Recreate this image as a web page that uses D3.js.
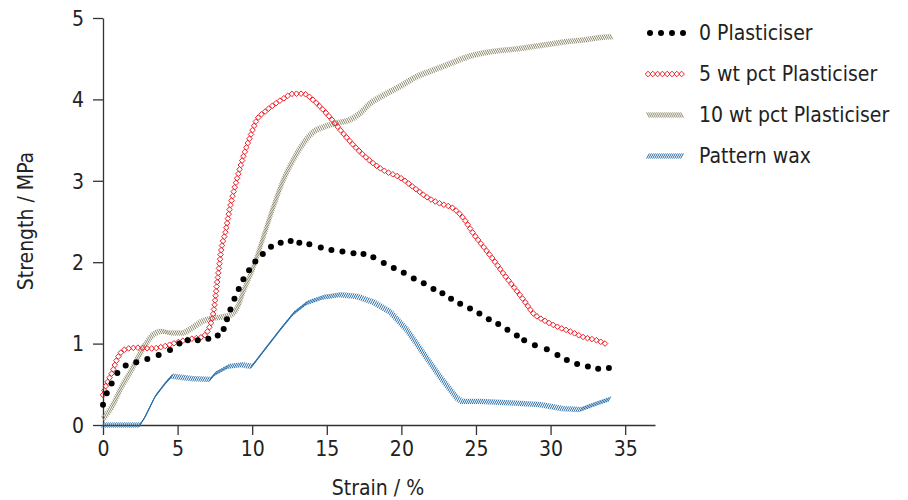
<!DOCTYPE html>
<html>
<head>
<meta charset="utf-8">
<script src="https://cdn.jsdelivr.net/npm/d3@7"></script>
<style>
  body { margin: 0; background: #fff; }
  svg text { font-family: "Liberation Sans Narrow", "Arial Narrow", "DejaVu Sans", sans-serif; font-stretch: condensed; fill: #222; }
</style>
</head>
<body>
<div class="visualization"></div>
<script>
// strain (%) / strength (MPa)
const seriesNames = ["0 Plasticiser", "5 wt pct Plasticiser", "10 wt pct Plasticiser", "Pattern wax"];

const strain0 = [0, 0.25, 0.58, 0.96, 1.52, 2.23, 2.97, 3.73, 4.49, 5.12, 5.68, 6.35, 7.06, 7.69, 8.09, 8.31, 8.54, 8.81, 9.1, 9.41, 9.79, 10.21, 10.71, 11.26, 11.91, 12.58, 13.16, 13.83, 14.6, 15.31, 16.05, 16.79, 17.46, 18.12, 18.82, 19.49, 20.16, 20.83, 21.5, 22.15, 22.75, 23.33, 23.94, 24.6, 25.23, 25.86, 26.49, 27.11, 27.74, 28.23, 28.95, 29.75, 30.46, 31.09, 31.78, 32.5, 33.19, 33.91];
const stress0 = [0.25, 0.39, 0.51, 0.64, 0.73, 0.77, 0.81, 0.86, 0.92, 1.0, 1.04, 1.04, 1.06, 1.10, 1.18, 1.30, 1.42, 1.55, 1.67, 1.79, 1.90, 2.01, 2.10, 2.19, 2.24, 2.26, 2.24, 2.22, 2.18, 2.15, 2.13, 2.11, 2.10, 2.06, 1.99, 1.93, 1.87, 1.80, 1.74, 1.67, 1.62, 1.55, 1.49, 1.43, 1.37, 1.30, 1.24, 1.17, 1.10, 1.04, 0.98, 0.93, 0.86, 0.80, 0.75, 0.72, 0.69, 0.70];

const strain5 = [0, 0.13, 0.36, 0.62, 0.92, 1.25, 1.7, 2.37, 3.26, 4.16, 5.05, 5.95, 6.62, 7.06, 7.29, 7.46, 7.62, 7.78, 7.96, 8.18, 8.52, 8.96, 9.41, 9.86, 10.31, 10.86, 11.42, 12.09, 12.76, 13.43, 14.1, 14.77, 15.44, 16.11, 16.78, 17.68, 18.79, 19.91, 21.03, 21.7, 22.6, 23.49, 24.16, 24.83, 25.5, 26.17, 26.84, 27.51, 28.18, 28.85, 29.52, 30.42, 31.31, 32.2, 33.1, 33.66];
const stress5 = [0.37, 0.45, 0.55, 0.65, 0.80, 0.90, 0.94, 0.95, 0.94, 0.97, 1.02, 1.06, 1.08, 1.17, 1.29, 1.45, 1.70, 1.94, 2.19, 2.35, 2.68, 3.01, 3.30, 3.54, 3.75, 3.85, 3.93, 4.01, 4.07, 4.07, 3.99, 3.87, 3.73, 3.58, 3.44, 3.28, 3.13, 3.04, 2.89, 2.80, 2.72, 2.66, 2.54, 2.35, 2.19, 2.03, 1.86, 1.70, 1.54, 1.37, 1.29, 1.21, 1.15, 1.08, 1.04, 1.00];

const strain10 = [0, 0.58, 1.25, 1.92, 2.37, 2.82, 3.37, 3.94, 4.6, 5.28, 5.95, 6.62, 7.29, 8.07, 8.63, 9.07, 9.41, 10.08, 10.75, 11.42, 12.09, 12.76, 13.43, 14.1, 14.77, 15.67, 16.56, 17.23, 17.9, 18.79, 19.91, 21.03, 22.15, 23.27, 24.39, 25.5, 26.62, 27.74, 28.85, 29.97, 31.09, 32.2, 33.32, 34.1];
const stress10 = [0.08, 0.22, 0.47, 0.68, 0.84, 0.98, 1.11, 1.15, 1.13, 1.13, 1.19, 1.27, 1.31, 1.33, 1.36, 1.47, 1.64, 1.94, 2.31, 2.68, 3.01, 3.26, 3.46, 3.60, 3.66, 3.71, 3.75, 3.83, 3.95, 4.05, 4.16, 4.28, 4.36, 4.44, 4.52, 4.57, 4.60, 4.62, 4.65, 4.68, 4.71, 4.73, 4.76, 4.77];

const strainWax = [0, 2.48, 2.82, 3.49, 4.16, 4.6, 5.95, 7.18, 7.51, 8.4, 9.3, 9.97, 10.98, 11.87, 12.76, 13.66, 14.77, 15.89, 17.01, 18.12, 19.24, 20.36, 21.48, 22.6, 23.72, 24.05, 25.28, 27.51, 29.3, 30.86, 32.0, 32.88, 33.99];
const stressWax = [0, 0, 0.10, 0.35, 0.51, 0.60, 0.57, 0.56, 0.63, 0.72, 0.74, 0.72, 0.96, 1.17, 1.37, 1.50, 1.57, 1.60, 1.58, 1.51, 1.39, 1.17, 0.88, 0.59, 0.33, 0.29, 0.29, 0.27, 0.25, 0.20, 0.19, 0.25, 0.32];

const xTicks = [0, 5, 10, 15, 20, 25, 30, 35];
const yTicks = [0, 1, 2, 3, 4, 5];

const zip = (xs, ys) => xs.map((x, i) => [x, ys[i]]);

const svg = d3.select(".visualization").append("svg")
    .attr("width", 908).attr("height", 500);

const x = d3.scaleLinear().domain([0, 37]).range([103, 655]);
const y = d3.scaleLinear().domain([0, 5]).range([425, 18]);

// axes
const axisColor = "#333";
const xAxis = svg.append("g").attr("transform", "translate(0,425)")
    .call(d3.axisBottom(x).tickValues(xTicks).tickFormat(d3.format("d")).tickSize(10).tickPadding(6).tickSizeOuter(0));
const yAxis = svg.append("g").attr("transform", "translate(103,0)")
    .call(d3.axisLeft(y).tickValues(yTicks).tickFormat(d3.format("d")).tickSize(10).tickPadding(9).tickSizeOuter(0));
[xAxis, yAxis].forEach(g => {
    g.select(".domain").attr("stroke", axisColor).attr("stroke-width", 1.3);
    g.selectAll(".tick line").attr("stroke", axisColor).attr("stroke-width", 1.3);
    g.selectAll(".tick text").style("font-size", "21px").attr("fill", "#222");
});
yAxis.selectAll(".tick text").attr("dy", "0.35em");

svg.append("text").attr("x", 378).attr("y", 495).attr("text-anchor", "middle")
    .style("font-size", "21px").text("Strain / %");
svg.append("text").attr("transform", "translate(33,221) rotate(-90)").attr("text-anchor", "middle")
    .style("font-size", "21px").text("Strength / MPa");

// place a marker every `step` px along a path
function alongPath(d, step, draw, parent) {
    const p = parent.append("path").attr("d", d).attr("fill", "none").attr("stroke", "none");
    const len = p.node().getTotalLength();
    for (let l = 0; l <= len; l += step) {
        const pt = p.node().getPointAtLength(l);
        draw(parent, pt.x, pt.y);
    }
}

const drawDiamond = (g, cx, cy) => g.append("path")
    .attr("d", `M${cx},${cy - 2.8}L${cx + 2.8},${cy}L${cx},${cy + 2.8}L${cx - 2.8},${cy}Z`)
    .attr("fill", "none").attr("stroke", "#f0202a").attr("stroke-width", 1);
const drawBack = color => (g, cx, cy) => g.append("line")
    .attr("x1", cx - 1.4).attr("y1", cy - 2.6).attr("x2", cx + 1.4).attr("y2", cy + 2.6)
    .attr("stroke", color).attr("stroke-width", 1);
const drawFwd = color => (g, cx, cy) => g.append("line")
    .attr("x1", cx - 1.4).attr("y1", cy + 2.6).attr("x2", cx + 1.4).attr("y2", cy - 2.6)
    .attr("stroke", color).attr("stroke-width", 1);
const drawDot = (g, cx, cy) => g.append("circle").attr("cx", cx).attr("cy", cy).attr("r", 3).attr("fill", "#000");

const olive = "#8d8a6c";
const blue = "#2a6ea8";

const smooth = d3.line().x(d => x(d[0])).y(d => y(d[1])).curve(d3.curveMonotoneX);
const straight = d3.line().x(d => x(d[0])).y(d => y(d[1]));

const plot = svg.append("g");
alongPath(straight(zip(strainWax, stressWax)), 2, drawFwd(blue), plot.append("g"));
alongPath(smooth(zip(strain10, stress10)), 2, drawBack(olive), plot.append("g"));
alongPath(smooth(zip(strain5, stress5)), 4.6, drawDiamond, plot.append("g"));
plot.append("g").selectAll("circle").data(zip(strain0, stress0)).join("circle")
    .attr("cx", d => x(d[0])).attr("cy", d => y(d[1])).attr("r", 3).attr("fill", "#000");

// legend
const legend = svg.append("g");
const drawers = [null, drawDiamond, drawBack(olive), drawFwd(blue)];
seriesNames.forEach((name, i) => {
    const cy = 33 + i * 41;
    const g = legend.append("g");
    if (i === 0) {
        [650, 661, 672, 683].forEach(cx => drawDot(g, cx, cy));
    } else {
        alongPath(`M648,${cy}L682,${cy}`, i === 1 ? 4.8 : 2, drawers[i], g);
    }
    legend.append("text").attr("x", 699).attr("y", cy).attr("dy", "0.35em")
        .style("font-size", "21px").text(name);
});
</script>
</body>
</html>
